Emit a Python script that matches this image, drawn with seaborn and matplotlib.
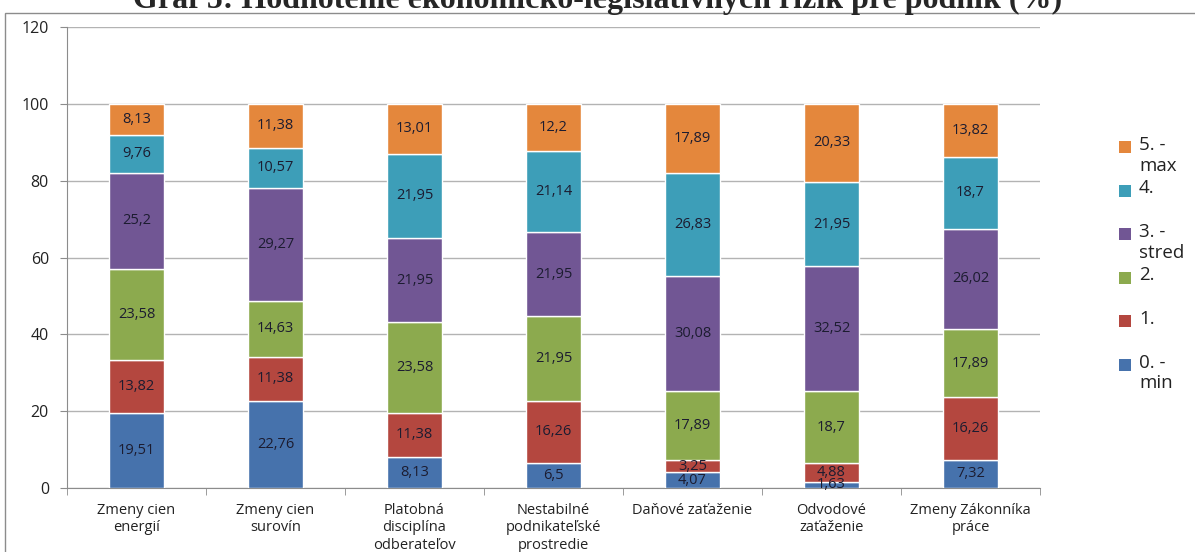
import matplotlib
matplotlib.use("Agg")
import numpy as np
import matplotlib.pyplot as plt
import seaborn as sns
from matplotlib.patches import Rectangle

categories = ["Zmeny cien\nenergií", "Zmeny cien\nsurovín", "Platobná\ndisciplína\nodberateľov",
              "Nestabilné\npodnikateľské\nprostredie", "Daňové zaťaženie", "Odvodové\nzaťaženie",
              "Zmeny Zákonníka\npráce"]
series_names = ["0. -\nmin", "1.", "2.", "3. -\nstred", "4.", "5. -\nmax"]
v0 = [19.51, 22.76, 8.13, 6.5, 4.07, 1.63, 7.32]
v1 = [13.82, 11.38, 11.38, 16.26, 3.25, 4.88, 16.26]
v2 = [23.58, 14.63, 23.58, 21.95, 17.89, 18.7, 17.89]
v3 = [25.2, 29.27, 21.95, 21.95, 30.08, 32.52, 26.02]
v4 = [9.76, 10.57, 21.95, 21.14, 26.83, 21.95, 18.7]
v5 = [8.13, 11.38, 13.01, 12.2, 17.89, 20.33, 13.82]
series = [v0, v1, v2, v3, v4, v5]
colors = ["#4672AC", "#B4473F", "#8CAA4E", "#715694", "#3D9EB8", "#E4873C"]

sns.set_style("white")
plt.rcParams["font.family"] = ["Open Sans", "DejaVu Sans"]

W, H = 1195, 552
fig = plt.figure(figsize=(W / 100, H / 100), dpi=100)
ax = fig.add_axes([67 / W, 1 - 488 / H, 973 / W, 461 / H])

# chart border like the Excel frame
fig.patches.append(Rectangle((5 / W, -0.1), 1.2, 1.1 - 13 / H, transform=fig.transFigure,
                             fill=False, edgecolor="#8c8c8c", linewidth=1.0))

bottom = np.zeros(len(categories))
for vals, col in zip(series, colors):
    sns.barplot(x=categories, y=vals, bottom=bottom, color=col, width=0.4,
                saturation=1, ax=ax, zorder=3)
    for i, v in enumerate(vals):
        ax.text(i, bottom[i] + v / 2, f"{v:g}".replace(".", ","), ha="center", va="center",
                fontsize=10.5, color="#1c1c30", zorder=4)
    bottom += np.array(vals)

ax.set_ylim(0, 120)
ax.set_xlim(-0.5, len(categories) - 0.5)
ax.set_yticks(range(0, 121, 20))
ax.yaxis.grid(True, color="#b3b3b3", linewidth=1.0, zorder=0)
ax.tick_params(axis="y", labelsize=11.5, left=True, length=5, color="#8c8c8c", pad=8,
               labelcolor="#222222")
ax.tick_params(axis="x", labelsize=10.5, bottom=False, pad=7, labelcolor="#222222")
for t in ax.get_xticklabels():
    t.set_linespacing(1.25)
ax.set_xticks(np.arange(-0.5, len(categories), 1), minor=True)
ax.tick_params(axis="x", which="minor", bottom=True, length=5, color="#8c8c8c")
for s in ["top", "right"]:
    ax.spines[s].set_visible(False)
for s in ["left", "bottom"]:
    ax.spines[s].set_color("#8c8c8c")
ax.set_xlabel("")
ax.set_ylabel("")

# legend, top entry first, patch aligned with the first text line
y0, step = 147, 43.5
for k, (name, col) in enumerate(zip(series_names[::-1], colors[::-1])):
    yc = y0 + k * step
    fig.patches.append(Rectangle((1119 / W, 1 - (yc + 6) / H), 12 / W, 12 / H,
                                 transform=fig.transFigure, facecolor=col, edgecolor="none"))
    fig.text(1139 / W, 1 - (yc - 11) / H, name, ha="left", va="top", fontsize=13.5,
             color="#222222", linespacing=1.2)

fig.text(0.5, 1 - 8 / H, "Graf 5: Hodnotenie ekonomicko-legislatívnych rizík pre podnik (%)",
         ha="center", va="baseline", fontsize=23, fontweight="bold", family="Liberation Serif")

fig.savefig("out.png", dpi=100)
